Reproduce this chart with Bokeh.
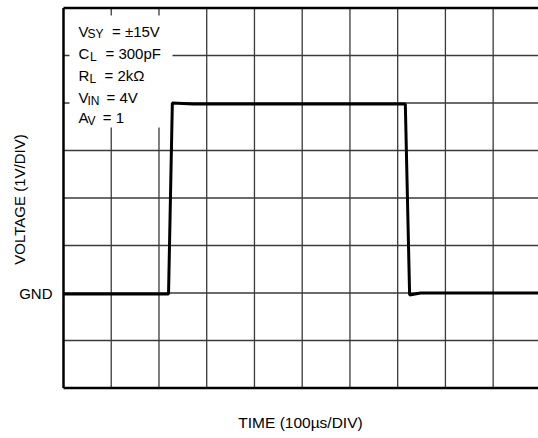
import math
from bokeh.plotting import figure
from bokeh.models import Label
from bokeh.embed import file_html
from bokeh.resources import INLINE

# ---- data (divisions / volts) ----
wave_t = [0.0, 2.20, 2.28, 2.72, 7.16, 7.25, 7.48, 10.0]
wave_v = [-0.02, -0.02, 4.0, 3.98, 3.98, -0.04, 0.0, 0.0]

x_grid_ticks = [1, 2, 3, 4, 5, 6, 7, 8, 9]
y_grid_ticks = [-1, 0, 1, 2, 3, 4, 5]
x_min, x_max = 0, 10
y_min, y_max = -2, 6

gnd_level = 0
gnd_label = "GND"
x_title = "TIME (100µs/DIV)"
y_title = "VOLTAGE (1V/DIV)"

cond_main = ["V", "C", "R", "V", "A"]
cond_sub = ["SY", "L", "L", "IN", "V"]
cond_rest = ["= ±15V", "= 300pF", "= 2kΩ", "= 4V", "= 1"]

FONT = "Liberation Sans"

# pixel geometry of the scope screen inside the 538x438 canvas
X0, XPX = 63.0, 47.74
Y0, YPX = 7.5, 47.5
def dx(px):
    return (px - X0) / XPX
def dy(py):
    return y_max - (py - Y0) / YPX

W, H = 538, 438
p = figure(width=W, height=H, x_range=(dx(0), dx(W)), y_range=(dy(H), dy(0)),
           output_backend="svg", toolbar_location=None,
           min_border_left=0, min_border_right=0, min_border_top=0, min_border_bottom=0)
p.outline_line_color = None
p.axis.visible = False
p.grid.visible = False
p.background_fill_color = "white"

# grid lines
p.segment(x0=x_grid_ticks, x1=x_grid_ticks, y0=[y_min] * len(x_grid_ticks),
          y1=[y_max] * len(x_grid_ticks), line_color="#3a3a3a", line_width=1.3)
p.segment(x0=[x_min] * len(y_grid_ticks), x1=[x_max] * len(y_grid_ticks),
          y0=y_grid_ticks, y1=y_grid_ticks, line_color="#3a3a3a", line_width=1.3)

# white box behind the conditions
p.quad(left=dx(69), right=dx(172), top=dy(15), bottom=dy(127),
       fill_color="white", line_color=None)

# waveform
p.line(wave_t, wave_v, line_color="black", line_width=3)

# frame borders (left, top, bottom)
p.segment(x0=[x_min, x_min, x_min], x1=[x_min, x_max, x_max],
          y0=[y_min, y_max, y_min], y1=[y_max, y_max, y_min],
          line_color="black", line_width=2.5)

# condition texts
baselines = [30.7, 53.0, 75.3, 97.3, 117.3]
sub_x = [87.0, 89.5, 89.0, 87.0, 87.0]
rest_x = [111.5, 105.0, 104.0, 106.0, 102.3]
for i in range(5):
    b = baselines[i]
    p.add_layout(Label(x=dx(78), y=dy(b), text=cond_main[i], text_font=FONT,
                       text_font_size="15px", text_baseline="alphabetic", text_color="black"))
    p.add_layout(Label(x=dx(sub_x[i]), y=dy(b + 3), text=cond_sub[i], text_font=FONT,
                       text_font_size="12px", text_baseline="alphabetic", text_color="black"))
    p.add_layout(Label(x=dx(rest_x[i]), y=dy(b), text=cond_rest[i], text_font=FONT,
                       text_font_size="15px", text_baseline="alphabetic", text_color="black"))

# GND label
p.add_layout(Label(x=dx(52), y=gnd_level, text=gnd_label, text_font=FONT,
                   text_font_size="15px", text_align="right", text_baseline="middle",
                   text_color="black"))

# axis titles
p.add_layout(Label(x=dx(300), y=dy(422), text=x_title, text_font=FONT,
                   text_font_size="15.5px", text_align="center", text_baseline="middle",
                   text_color="black"))
p.add_layout(Label(x=dx(19), y=dy(199), text=y_title, angle=math.pi / 2,
                   text_font=FONT, text_font_size="15px", text_align="center",
                   text_baseline="middle", text_color="black"))

open("out.html", "w").write(file_html(p, INLINE))
